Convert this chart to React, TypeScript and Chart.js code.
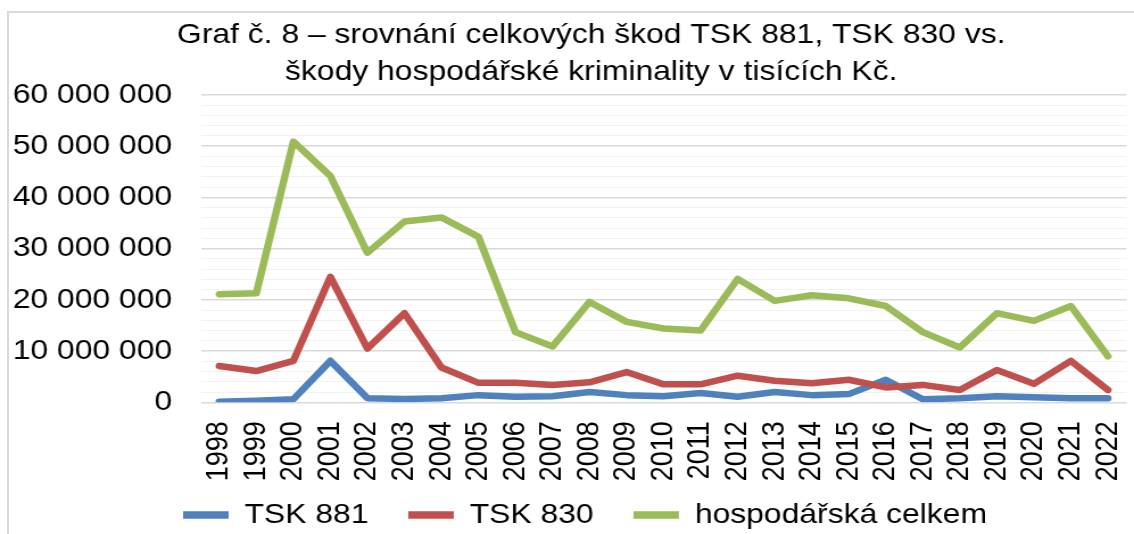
import React, { useEffect, useRef } from "react";
import { Chart, registerables } from "chart.js";

Chart.register(...registerables);

const years = [
  "1998", "1999", "2000", "2001", "2002", "2003", "2004", "2005", "2006", "2007",
  "2008", "2009", "2010", "2011", "2012", "2013", "2014", "2015", "2016", "2017",
  "2018", "2019", "2020", "2021", "2022",
];

const tsk881 = [
  100000, 300000, 600000, 8100000, 800000, 650000, 800000, 1400000, 1100000, 1200000,
  2000000, 1400000, 1200000, 1800000, 1100000, 2000000, 1400000, 1600000, 4400000, 600000,
  800000, 1200000, 1000000, 800000, 800000,
];

const tsk830 = [
  7100000, 6100000, 8100000, 24500000, 10500000, 17400000, 6800000, 3800000, 3800000, 3400000,
  3900000, 5900000, 3500000, 3500000, 5200000, 4200000, 3700000, 4400000, 2900000, 3400000,
  2400000, 6300000, 3600000, 8100000, 2400000,
];

const hospodarska = [
  21100000, 21300000, 50900000, 44200000, 29200000, 35300000, 36100000, 32300000, 13700000, 10900000,
  19600000, 15700000, 14400000, 14000000, 24100000, 19800000, 20900000, 20300000, 18800000, 13700000,
  10700000, 17400000, 15900000, 18800000, 9000000,
];

const seriesLabels = ["TSK 881", "TSK 830", "hospodářská celkem"];
const seriesColors = ["#4F81BD", "#C0504D", "#9BBB59"];
const titleLines = [
  "Graf č. 8 – srovnání celkových škod TSK 881, TSK 830 vs.",
  "škody hospodářské kriminality v tisících Kč.",
];

const FONT = "'Liberation Sans', Arial, sans-serif";

// the reference picture is horizontally stretched; render narrower and stretch with CSS
const VIEW_W = 1134;
const VIEW_H = 534;
const STRETCH = 1.137;
const CANVAS_W = Math.round(VIEW_W / STRETCH);
const LEGEND_FONT = 28;
const LEGEND_PAD = 35;
const BOTTOM_PAD = -5;
const PLOT_BOTTOM = 402.3;
const X_AXIS_H = VIEW_H - BOTTOM_PAD - (LEGEND_FONT + LEGEND_PAD + 10) - PLOT_BOTTOM;

const formatNum = (v: number) =>
  Math.round(v).toString().replace(/\B(?=(\d{3})+(?!\d))/g, " ");

export default function App() {
  const canvasRef = useRef<HTMLCanvasElement | null>(null);

  useEffect(() => {
    if (!canvasRef.current) return;
    const seriesData = [tsk881, tsk830, hospodarska];
    const placeBlocks = {
      id: "placeBlocks",
      afterLayout(chart: any) {
        const t = chart.titleBlock;
        if (t) {
          const cx = 591 / STRETCH;
          const half = 470;
          t.left = cx - half;
          t.right = cx + half;
          t.width = half * 2;
        }
        const l = chart.legend;
        if (l) {
          const w = l.right - l.left;
          l.left = 126;
          l.right = 126 + w;
        }
        const x = chart.scales.x;
        if (x) {
          x.bottom = VIEW_H;
        }
      },
    };
    const chart = new Chart(canvasRef.current, {
      type: "line",
      data: {
        labels: years,
        datasets: seriesLabels.map((label, i) => ({
          label,
          data: seriesData[i],
          borderColor: seriesColors[i],
          backgroundColor: seriesColors[i],
          borderWidth: 6.5,
          borderCapStyle: "round" as const,
          borderJoinStyle: "round" as const,
          pointRadius: 0,
          pointHoverRadius: 0,
          tension: 0,
          fill: false,
          order: 3 - i,
        })),
      },
      plugins: [placeBlocks],
      options: {
        animation: false,
        responsive: false,
        maintainAspectRatio: false,
        events: [],
        layout: {
          padding: { left: 0, right: CANVAS_W - 1126 / STRETCH, top: 0, bottom: BOTTOM_PAD },
        },
        plugins: {
          tooltip: { enabled: false },
          title: {
            display: true,
            text: titleLines,
            color: "#000000",
            font: { family: FONT, size: 28, weight: "normal", lineHeight: 37 / 28 },
            padding: { top: 16.5, bottom: 4.5 },
          },
          legend: {
            display: true,
            position: "bottom",
            align: "start",
            labels: {
              color: "#000000",
              font: { family: FONT, size: LEGEND_FONT },
              usePointStyle: true,
              pointStyle: "line",
              pointStyleWidth: 40,
              padding: LEGEND_PAD,
              sort: (a: any, b: any) => a.datasetIndex - b.datasetIndex,
              generateLabels: (chart: any) =>
                (Chart.defaults.plugins.legend.labels.generateLabels as any)(chart).map(
                  (item: any) => ({ ...item, lineWidth: 7.5 })
                ),
            },
          },
        },
        scales: {
          x: {
            type: "category",
            offset: true,
            grid: { display: false, drawTicks: false },
            border: { display: false },
            ticks: {
              color: "#000000",
              font: { family: FONT, size: 27 },
              minRotation: 90,
              maxRotation: 90,
              autoSkip: false,
              padding: 19,
            },
            afterFit: (scale: any) => {
              scale.height = X_AXIS_H;
              scale.paddingLeft = 0;
              scale.paddingRight = 0;
            },
          },
          y: {
            min: 0,
            max: 60000000,
            border: { display: false },
            grid: {
              drawTicks: false,
              color: (ctx: any) =>
                ctx.tick && ctx.tick.value % 10000000 === 0 ? "#d9d9d9" : "#f2f2f2",
              lineWidth: (ctx: any) =>
                ctx.tick && ctx.tick.value % 10000000 === 0 ? 1.5 : 1,
            },
            ticks: {
              stepSize: 2000000,
              autoSkip: false,
              color: "#000000",
              font: { family: FONT, size: 28 },
              padding: 200.7 / STRETCH - 172 / STRETCH,
              callback: (value: any) => {
                const v = Number(value);
                return v % 10000000 === 0 ? formatNum(v) : "";
              },
            },
            afterFit: (scale: any) => {
              scale.width = 200.7 / STRETCH;
              scale.paddingTop = 0;
              scale.paddingBottom = 0;
            },
          },
        },
      },
    });
    return () => chart.destroy();
  }, []);

  return (
    <div
      style={{
        position: "fixed",
        left: 0,
        top: 0,
        width: VIEW_W,
        height: VIEW_H,
        background: "#ffffff",
        overflow: "hidden",
      }}
    >
      <div
        style={{
          position: "absolute",
          left: 7,
          top: 11,
          width: 1200,
          height: 600,
          borderLeft: "2px solid #d9d9d9",
          borderTop: "2px solid #d9d9d9",
          boxSizing: "border-box",
        }}
      />
      <canvas
        ref={canvasRef}
        width={CANVAS_W}
        height={VIEW_H}
        style={{
          position: "absolute",
          left: 0,
          top: 0,
          width: VIEW_W + "px",
          height: VIEW_H + "px",
        }}
      />
    </div>
  );
}
